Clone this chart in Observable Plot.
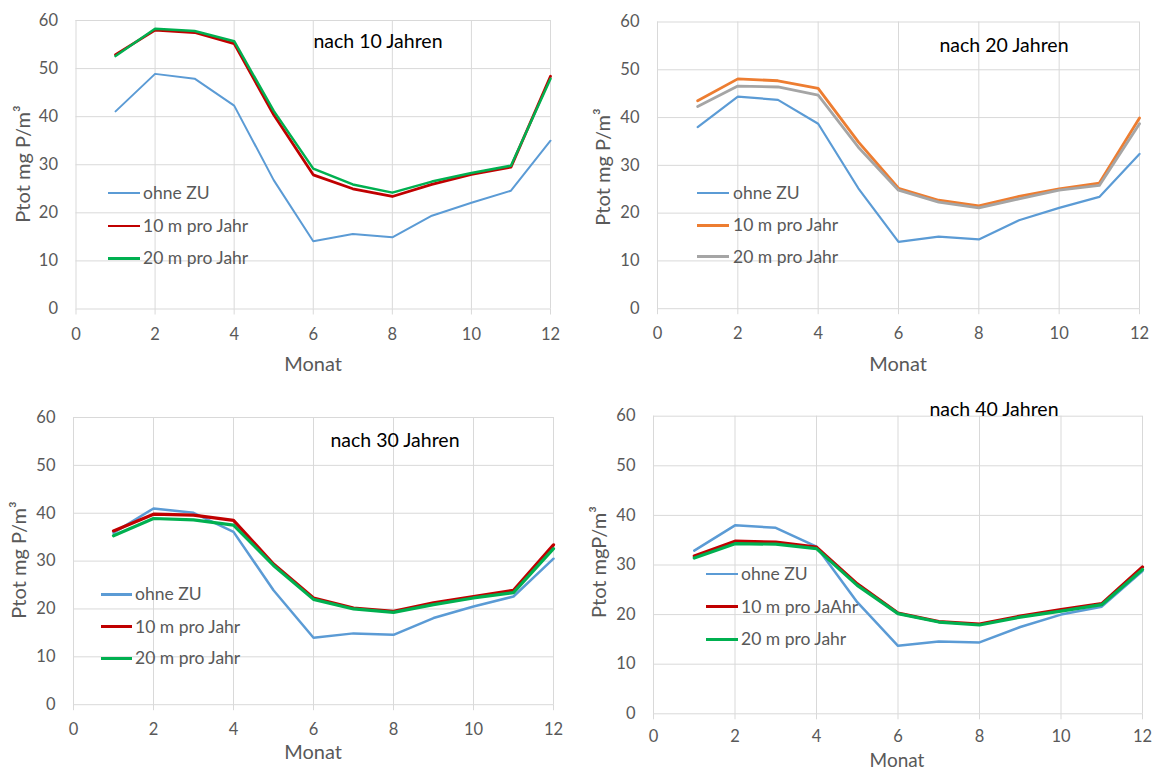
<!DOCTYPE html>
<html><head><meta charset="utf-8">
<script src="https://cdn.jsdelivr.net/npm/d3@7"></script>
<script src="https://cdn.jsdelivr.net/npm/@observablehq/plot@0.6"></script>
<style>
body{margin:0;background:#fff;}
#chart{position:relative;width:1154px;height:771px;overflow:hidden;font-family:Lato,"Noto Sans",sans-serif;background:#fff;}
#chart svg{position:absolute;left:0;top:0;}
.t{position:absolute;white-space:nowrap;line-height:1;}
</style></head><body><div id="chart"></div>
<script>
// ---- data ----
const months = [1,2,3,4,5,6,7,8,9,10,11,12];
const xTicks = [0,2,4,6,8,10,12];
const yTicks = [0,10,20,30,40,50,60];
const titles = ["nach 10 Jahren","nach 20 Jahren","nach 30 Jahren","nach 40 Jahren"];
const yLabels = ["Ptot mg P/m³","Ptot mg P/m³","Ptot mg P/m³","Ptot mgP/m³"];
const xLabel = "Monat";
const names = ["ohne ZU","10 m pro Jahr","20 m pro Jahr"];
const names40 = ["ohne ZU","10 m pro JaAhr","20 m pro Jahr"];

const j10_ohne = [41.1,48.9,47.9,42.3,26.8,14.1,15.6,14.9,19.4,22.1,24.6,35.0];
const j10_10m  = [52.9,58.0,57.5,55.2,40.4,27.9,25.0,23.4,25.9,28.0,29.5,48.4];
const j10_20m  = [52.6,58.3,57.8,55.7,41.2,29.2,25.9,24.2,26.5,28.3,29.8,47.9];

const j20_ohne = [38.0,44.4,43.7,38.7,25.2,14.0,15.1,14.5,18.5,21.1,23.4,32.4];
const j20_10m  = [43.5,48.1,47.7,46.1,34.9,25.2,22.7,21.5,23.5,25.1,26.3,39.9];
const j20_20m  = [42.3,46.6,46.4,44.7,33.8,24.8,22.3,21.1,23.0,24.8,25.8,38.7];

const j30_ohne = [35.9,41.0,40.1,36.1,23.9,14.0,14.9,14.6,18.1,20.5,22.6,30.5];
const j30_10m  = [36.3,39.8,39.6,38.5,29.4,22.3,20.2,19.5,21.3,22.6,23.9,33.4];
const j30_20m  = [35.3,38.9,38.6,37.5,29.1,22.0,20.0,19.3,20.9,22.3,23.4,32.6];

const j40_ohne = [32.9,38.0,37.5,33.7,22.5,13.7,14.6,14.4,17.5,20.0,21.6,28.8];
const j40_10m  = [31.8,34.8,34.6,33.6,26.2,20.3,18.6,18.1,19.7,21.0,22.2,29.6];
const j40_20m  = [31.4,34.3,34.2,33.3,25.9,20.2,18.5,17.9,19.5,20.7,22.0,29.1];

// ---- layout / style ----
const W = 1154, H = 771;
const BLUE="#5B9BD5", RED="#C00000", GREEN="#00B050", ORANGE="#ED7D31", GRAY="#A5A5A5";
const panels = [
  {series:[j10_ohne,j10_10m,j10_20m], names:names, colors:[BLUE,RED,GREEN], widths:[2,2.8,2.5],
   frame:{x0:75.5,x1:550,y0:20,y1:308.5}, tp:13, title:[378,41], ylab:[22,164], xlab:[313,363],
   legend:{lx:108,lw:32,tx:143,ys:[192.7,226,258.3]}},
  {series:[j20_ohne,j20_10m,j20_20m], names:names, colors:[BLUE,ORANGE,GRAY], widths:[2.2,2.8,2.8],
   frame:{x0:657,x1:1139,y0:21.5,y1:308.2}, tp:13, title:[1004,45], ylab:[602,167], xlab:[898,363],
   legend:{lx:697,lw:32,tx:733,ys:[192.7,225.3,256.7]}},
  {series:[j30_ohne,j30_10m,j30_20m], names:names, colors:[BLUE,RED,GREEN], widths:[2.5,3.2,3.2],
   frame:{x0:73,x1:553,y0:417,y1:704.2}, tp:13, title:[395,440], ylab:[18,560], xlab:[313,751],
   legend:{lx:100.5,lw:31.5,tx:135,ys:[594.3,626.7,658.3]}},
  {series:[j40_ohne,j40_10m,j40_20m], names:names40, colors:[BLUE,RED,GREEN], widths:[2.5,3.2,3.2],
   frame:{x0:653,x1:1142,y0:415.7,y1:713.3}, tp:10, title:[994,409], ylab:[598,562], xlab:[897,760],
   legend:{lx:705.6,lw:32,tx:741,ys:[574,606.7,639.3]}}
];

const chart = document.getElementById("chart");
function addText(txt, x, y, css, anchor) {
  const s = document.createElement("div");
  s.className = "t";
  s.textContent = txt;
  s.style.left = x + "px";
  s.style.top = y + "px";
  Object.assign(s.style, css);
  s.style.transform = anchor;
  chart.appendChild(s);
  return s;
}

panels.forEach((p, pi) => {
  const f = p.frame;
  const lineMarks = p.series.map((vals, k) =>
    Plot.line(months.map((m, i) => ({month: m, value: vals[i]})),
      {x: "month", y: "value", stroke: p.colors[k], strokeWidth: p.widths[k], strokeLinejoin: "round", strokeLinecap: "round"}));
  const svg = Plot.plot({
    width: W, height: H,
    marginLeft: f.x0, marginRight: W - f.x1, marginTop: f.y0, marginBottom: H - f.y1,
    style: {fontFamily: "Lato, 'Noto Sans', sans-serif", fontSize: "16.5px", color: "#595959", background: "transparent", overflow: "visible"},
    x: {domain: [0, 12], label: null},
    y: {domain: [0, 60], label: null},
    marks: [
      Plot.gridY(yTicks, {stroke: "#d9d9d9", strokeOpacity: 1, strokeWidth: 1}),
      Plot.gridX(xTicks, {stroke: "#d9d9d9", strokeOpacity: 1, strokeWidth: 1}),
      Plot.axisX(xTicks, {tickSize: 6, tickPadding: p.tp, stroke: "#d9d9d9", fill: "#595959", label: null}),
      Plot.axisY(yTicks, {tickSize: 0, tickPadding: 18, fill: "#595959", label: null}),
      ...lineMarks
    ]
  });
  chart.appendChild(svg);

  addText(titles[pi], p.title[0], p.title[1], {fontSize: "19.5px", color: "#000"}, "translate(-50%,-50%)");
  addText(yLabels[pi], p.ylab[0], p.ylab[1], {fontSize: "20px", color: "#595959"}, "translate(-50%,-50%) rotate(-90deg)");
  addText(xLabel, p.xlab[0], p.xlab[1], {fontSize: pi === 3 ? "19px" : "20px", color: "#595959", lineHeight: "0.9"}, "translate(-50%,-50%)");

  p.names.forEach((n, k) => {
    const ln = document.createElement("div");
    ln.style.position = "absolute";
    ln.style.left = p.legend.lx + "px";
    ln.style.top = (p.legend.ys[k] - p.widths[k] / 2) + "px";
    ln.style.width = p.legend.lw + "px";
    ln.style.height = p.widths[k] + "px";
    ln.style.background = p.colors[k];
    chart.appendChild(ln);
    addText(n, p.legend.tx, p.legend.ys[k], {fontSize: "17.5px", color: "#595959"}, "translate(0,-50%)");
  });
});
</script></body></html>
